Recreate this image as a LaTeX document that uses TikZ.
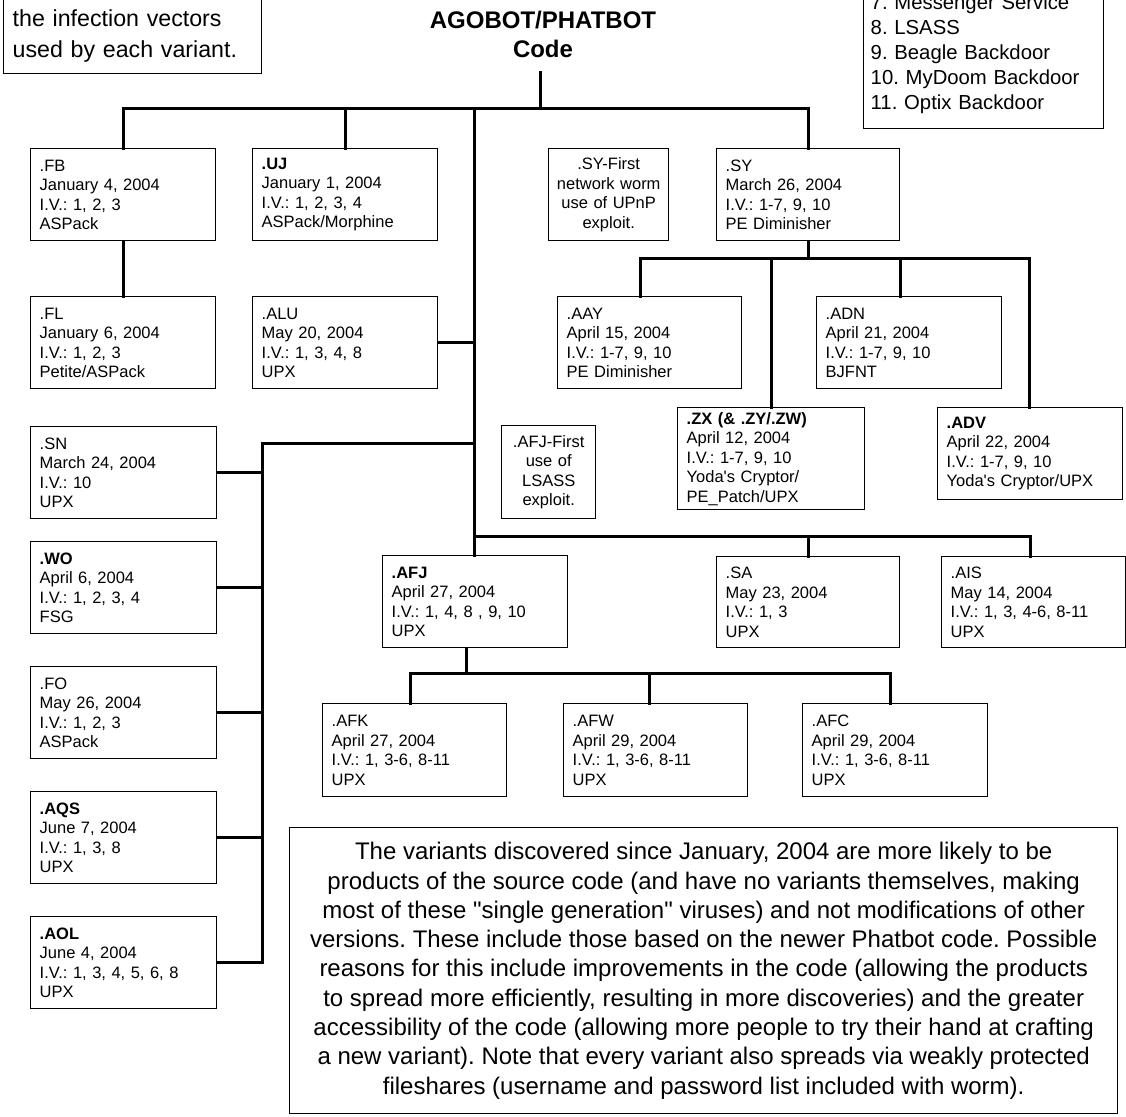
\documentclass[tikz,border=0pt]{standalone}
\usepackage{fontspec}
\setmainfont{Liberation Sans}
\frenchspacing
\newcommand\bxfont{\fontsize{16.5}{19.5}\selectfont}
\newcommand\notefont{\fontsize{24}{29.3}\selectfont}
\newcommand\legfont{\fontsize{20.3}{25}\selectfont}
\newcommand\tlfont{\fontsize{23.2}{31}\selectfont}
\newcommand\ttlfont{\fontsize{24}{29}\selectfont\bfseries}
\begin{document}
\begin{tikzpicture}[x=1pt,y=-1pt,
  frame/.style={draw=black, line width=1.4pt},
  varbox/.style={frame, anchor=north west, inner xsep=9pt, inner ysep=0pt, text width=167pt, minimum height=92pt, align=left, font=\bxfont},
  notebox/.style={frame, anchor=north west, inner sep=0pt, minimum height=93pt, align=center, font=\bxfont},
  conn/.style={line width=3pt, line cap=rect}]
\clip (0,0) rectangle (1126,1116);
\fill[white] (0,0) rectangle (1126,1116);

% headers
\node[frame, anchor=south west, inner xsep=9pt, inner ysep=11pt, text width=240pt, align=left, font=\tlfont] (tl) at (3,74) {the infection vectors\\used by each variant.};
\node[anchor=north, font=\ttlfont, align=center, inner sep=0pt] (title) at (543,10.5) {AGOBOT/PHATBOT\\Code};
\node[frame, anchor=south west, inner xsep=7pt, inner ysep=15pt, text width=226pt, align=left, font=\legfont] (leg) at (863,129) {7. Messenger Service\\8. LSASS\\9. Beagle Backdoor\\10. MyDoom Backdoor\\11. Optix Backdoor};

% variant boxes
\node[varbox] (fb) at (30,148) {.FB\\January 4, 2004\\I.V.: 1, 2, 3\\ASPack};
\node[varbox] (uj) at (252,148) {\textbf{.UJ}\\January 1, 2004\\I.V.: 1, 2, 3, 4\\ASPack/Morphine};
\node[varbox] (fl) at (30,296) {.FL\\January 6, 2004\\I.V.: 1, 2, 3\\Petite/ASPack};
\node[varbox] (alu) at (252,296) {.ALU\\May 20, 2004\\I.V.: 1, 3, 4, 8\\UPX};
\node[notebox, minimum width=120pt, text width=112pt, minimum height=92pt] (syf) at (548,148) {.SY-First\\network worm\\use of UPnP\\exploit.};
\node[varbox, text width=165pt] (sy) at (716,148) {.SY\\March 26, 2004\\I.V.: 1-7, 9, 10\\PE Diminisher};
\node[varbox, text width=166pt] (aay) at (557,296) {.AAY\\April 15, 2004\\I.V.: 1-7, 9, 10\\PE Diminisher};
\node[varbox] (adn) at (816,296) {.ADN\\April 21, 2004\\I.V.: 1-7, 9, 10\\BJFNT};
\node[varbox, text width=169pt, minimum height=102pt] (zx) at (677,407) {\textbf{.ZX (\& .ZY/.ZW)}\\April 12, 2004\\I.V.: 1-7, 9, 10\\Yoda\textquotesingle s Cryptor/\\PE\_Patch/UPX};
\node[varbox] (adv) at (937,407) {\textbf{.ADV}\\April 22, 2004\\I.V.: 1-7, 9, 10\\Yoda\textquotesingle s Cryptor/UPX};
\node[notebox, minimum width=94pt, text width=88pt] (afjf) at (501,425) {.AFJ-First\\use of\\LSASS\\exploit.};
\node[varbox, text width=168pt] (sn) at (30,426) {.SN\\March 24, 2004\\I.V.: 10\\UPX};
\node[varbox, text width=168pt] (wo) at (30,541) {\textbf{.WO}\\April 6, 2004\\I.V.: 1, 2, 3, 4\\FSG};
\node[varbox, text width=168pt] (fo) at (30,666) {.FO\\May 26, 2004\\I.V.: 1, 2, 3\\ASPack};
\node[varbox, text width=168pt] (aqs) at (30,791) {\textbf{.AQS}\\June 7, 2004\\I.V.: 1, 3, 8\\UPX};
\node[varbox, text width=168pt] (aol) at (30,916) {\textbf{.AOL}\\June 4, 2004\\I.V.: 1, 3, 4, 5, 6, 8\\UPX};
\node[varbox] (afj) at (382,555) {\textbf{.AFJ}\\April 27, 2004\\I.V.: 1, 4, 8 , 9, 10\\UPX};
\node[varbox, text width=165pt, minimum height=91pt] (sa) at (716,556) {.SA\\May 23, 2004\\I.V.: 1, 3\\UPX};
\node[varbox, text width=166pt, minimum height=91pt] (ais) at (941,556) {.AIS\\May 14, 2004\\I.V.: 1, 3, 4-6, 8-11\\UPX};
\node[varbox, text width=166pt, minimum height=93pt] (afk) at (322,703) {.AFK\\April 27, 2004\\I.V.: 1, 3-6, 8-11\\UPX};
\node[varbox, text width=166pt, minimum height=93pt] (afw) at (563,703) {.AFW\\April 29, 2004\\I.V.: 1, 3-6, 8-11\\UPX};
\node[varbox, text width=167pt, minimum height=93pt] (afc) at (802,703) {.AFC\\April 29, 2004\\I.V.: 1, 3-6, 8-11\\UPX};

% note
\node[frame, anchor=north west, inner sep=0pt, minimum width=828pt, minimum height=286pt, align=center, font=\notefont] (note) at (289,827) {The variants discovered since January, 2004 are more likely to be\\products of the source code (and have no variants themselves, making\\most of these \textquotedbl single generation\textquotedbl\ viruses) and not modifications of other\\versions. These include those based on the newer Phatbot code. Possible\\reasons for this include improvements in the code (allowing the products\\to spread more efficiently, resulting in more discoveries) and the greater\\accessibility of the code (allowing more people to try their hand at crafting\\a new variant). Note that every variant also spreads via weakly protected\\fileshares (username and password list included with worm).};

% connectors
\coordinate (tbot) at (540,72);
\coordinate (jt) at (540,108);
\coordinate (jtr) at (474,108);
\draw[conn] (tbot) -- (jt);
\draw[conn] (fb.north) |- (jt) -| (sy.north);
\draw[conn] (uj.north) -- (uj.north |- jt);
\draw[conn] (jtr) -- (jtr |- afj.north);
\draw[conn] (fb.south) -- (fl.north);
\draw[conn] (alu.east) -- (alu.east -| jtr);

\coordinate (jl) at (474,443);
\coordinate (lv) at (262,443);
\draw[conn] (jl) -- (lv) |- (aol.east);
\foreach \n in {sn,wo,fo,aqs} \draw[conn] (\n.east) -- (\n.east -| lv);

\coordinate (s1) at (640,258);
\coordinate (s2) at (1029,258);
\coordinate (s3) at (900,258);
\draw[conn] (sy.south) -- (sy.south |- s1);
\draw[conn] (s1 |- aay.north) -- (s1) -- (s2) -- (s2 |- adv.north);
\draw[conn] (zx.north) -- (zx.north |- s1);
\draw[conn] (s3) -- (s3 |- adn.north);

\coordinate (b0) at (474,536);
\coordinate (b1) at (1030,536);
\draw[conn] (b0) -- (b1) -- (b1 |- ais.north);
\draw[conn] (sa.north) -- (sa.north |- b1);

\coordinate (k0) at (466,673);
\coordinate (k1) at (410,673);
\coordinate (k2) at (890,673);
\coordinate (k3) at (649,673);
\draw[conn] (k0 |- afj.south) -- (k0);
\draw[conn] (k1 |- afk.north) -- (k1) -- (k2) -- (k2 |- afc.north);
\draw[conn] (k3) -- (k3 |- afw.north);
\end{tikzpicture}
\end{document}
